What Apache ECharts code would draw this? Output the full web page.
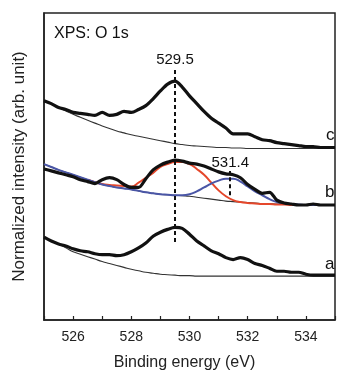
<!DOCTYPE html>
<html>
<head>
<meta charset="utf-8">
<script src="https://cdn.jsdelivr.net/npm/echarts@6/dist/echarts.min.js"></script>
<style>
  html, body { margin: 0; padding: 0; background: #fff; }
  #chart { width: 338px; height: 376px; }
</style>
</head>
<body>
<div id="chart"></div>
<script>
// binding energy grid (eV), 0.25 eV steps
const energies = [
  525, 525.25, 525.5, 525.75, 526, 526.25, 526.5, 526.75, 527, 527.25,
  527.5, 527.75, 528, 528.25, 528.5, 528.75, 529, 529.25, 529.5, 529.75,
  530, 530.25, 530.5, 530.75, 531, 531.25, 531.5, 531.75, 532, 532.25,
  532.5, 532.75, 533, 533.25, 533.5, 533.75, 534, 534.25, 534.5, 534.75, 535
];

// spectra (arb. unit, offset stacked)
const spectrumC = [
  225, 222, 218, 216, 213, 212, 211, 210, 213, 210,
  211, 214, 213, 216, 220, 227, 235, 242, 245, 239,
  230, 222, 214, 207, 202, 197, 191, 191, 191, 188,
  185, 184, 182, 181, 180, 179, 178, 178, 177, 177, 177
];
const backgroundC = [
  225, 221.5, 218, 214.5, 211, 208, 205, 202, 199, 196.5,
  194, 192, 190, 188.5, 187, 185.5, 184, 182.5, 181, 180,
  179, 178.5, 178, 177.5, 177, 177, 176.5, 176.5, 176, 176,
  176, 176, 176, 176, 176, 176, 176, 176, 176, 176, 176
];

const spectrumB = [
  155, 153, 151, 149, 147, 144, 142, 140, 144, 146,
  144, 139, 136, 136, 145, 154, 159, 162, 164, 163,
  161, 160, 158, 155, 152, 150, 149, 146, 139, 134,
  130, 131, 123, 120, 119, 118, 118, 119, 118, 118, 118
];
const backgroundB = [
  160, 157, 154, 151.5, 149, 146.5, 144, 141.5, 139, 137.5,
  136, 135, 134, 132.5, 131, 130, 129, 128.5, 128, 127.5,
  127, 126, 125, 124, 123, 122, 121.5, 121, 120.5, 120,
  119.5, 119.5, 119, 119, 118.5, 118.5, 118, 118, 118, 118, 118
];
// fitted components: 529.5 eV (red) and 531.4 eV (blue), each on the background
const fitB1 = [
  null, null, null, null, null, null, 144, 141.5, 139.5, 138.5,
  138, 137.5, 137, 141, 146, 151, 157, 160, 162, 162,
  160, 155, 149, 141, 133, 127, 123, 121, 120, 119.5,
  119, 119, 118.5, 118.5, 118, 118, 118, 118, 118, 118, 118
];
const fitB2 = [
  160, 157, 154, 151.5, 149, 146.5, 144, 141.5, 139, 137.5,
  136, 135, 134, 132.5, 131, 130, 129, 128.5, 128, 128,
  129, 132, 136, 140, 143, 145, 145, 142, 137, 132,
  128, 124, 121, 120, 119, 118.5, 118, 118, 118, 118, 118
];

const spectrumA = [
  85, 81, 78, 76, 73, 71, 70, 68, 67, 67,
  66, 67, 70, 74, 79, 86, 90, 93, 95, 94,
  88, 81, 76, 71, 68, 64, 62, 64, 62, 58,
  56, 53, 50, 50, 49, 49, 47, 46, 46, 46, 46
];
const backgroundA = [
  85, 81.5, 78, 74, 70, 67.5, 65, 62.5, 60, 58,
  56, 54, 52, 50.5, 49, 48, 47, 46.5, 46, 45.5,
  45.5, 45, 45, 45, 45, 45, 45, 45, 45, 45,
  45, 45, 45, 45, 45, 45, 45, 45, 45, 45, 45
];

const peakLabels = ["529.5", "531.4"];
const peakPositions = [529.5, 531.4];
const curveLabels = ["c", "b", "a"];

const FONT = "Liberation Sans, Arial, sans-serif";

const pairs = (ys) => energies.map((e, i) => [e, ys[i]]);

const chart = echarts.init(document.getElementById("chart"));

const thin = { color: "#333", width: 1.1 };
const thick = { color: "#111", width: 3.2 };

const lineSeries = (name, ys, style, smooth) => ({
  name,
  type: "line",
  data: pairs(ys),
  showSymbol: false,
  smooth,
  lineStyle: style,
  silent: true,
});

chart.setOption({
  animation: false,
  textStyle: { fontFamily: FONT },
  title: {
    text: "XPS: O 1s",
    left: 49,
    top: 21,
    textStyle: { fontSize: 16, fontWeight: "normal", color: "#111", fontFamily: FONT },
  },
  grid: {
    left: 44,
    top: 13,
    right: -19,
    bottom: 48,
    show: true,
    borderColor: "#222",
    borderWidth: 1.5,
  },
  xAxis: {
    type: "value",
    min: 525,
    max: 535,
    interval: 1,
    name: "Binding energy (eV)",
    nameLocation: "middle",
    nameGap: 35,
    nameTextStyle: { fontSize: 16, color: "#222", padding: [0, 10, 0, 0] },
    axisLine: { show: true, lineStyle: { color: "#222", width: 1.5 } },
    axisTick: { inside: true, length: 4, lineStyle: { color: "#222", width: 1.2 } },
    axisLabel: {
      interval: 0,
      fontSize: 14,
      color: "#222",
      margin: 10,
      formatter: (v) => (v % 2 === 0 ? String(v) : ""),
    },
    splitLine: { show: false },
  },
  yAxis: {
    type: "value",
    min: 0,
    max: 315,
    name: "Normalized intensity (arb. unit)",
    nameLocation: "middle",
    nameGap: 16,
    nameTextStyle: { fontSize: 17, color: "#222" },
    axisLine: { show: true, lineStyle: { color: "#222", width: 1.5 } },
    axisTick: { show: false },
    axisLabel: { show: false },
    splitLine: { show: false },
  },
  series: [
    lineSeries("bgC", backgroundC, thin, true),
    lineSeries("bgB", backgroundB, thin, true),
    lineSeries("bgA", backgroundA, thin, true),
    lineSeries("fit529", fitB1, { color: "#e5472b", width: 2 }, true),
    lineSeries("fit531", fitB2, { color: "#4a56a6", width: 2 }, true),
    lineSeries("c", spectrumC, thick, 0.3),
    lineSeries("b", spectrumB, thick, 0.3),
    {
      ...lineSeries("a", spectrumA, thick, 0.3),
      markLine: {
        silent: true,
        symbol: "none",
        lineStyle: { type: [4, 3], color: "#111", width: 2 },
        label: {
          show: true,
          position: "end",
          distance: 1,
          formatter: "{b}",
          fontSize: 15,
          color: "#111",
          fontFamily: FONT,
        },
        data: [
          [{ name: peakLabels[0], coord: [peakPositions[0], 80] }, { coord: [peakPositions[0], 258] }],
          [{ name: peakLabels[1], coord: [peakPositions[1], 128] }, { coord: [peakPositions[1], 153] }],
        ],
      },
    },
  ],
  graphic: [
    { type: "text", left: 326, top: 127, style: { text: curveLabels[0], font: "17px " + FONT, fill: "#111" } },
    { type: "text", left: 325, top: 184, style: { text: curveLabels[1], font: "17px " + FONT, fill: "#111" } },
    { type: "text", left: 325, top: 256, style: { text: curveLabels[2], font: "17px " + FONT, fill: "#111" } },
  ],
});
</script>
</body>
</html>
